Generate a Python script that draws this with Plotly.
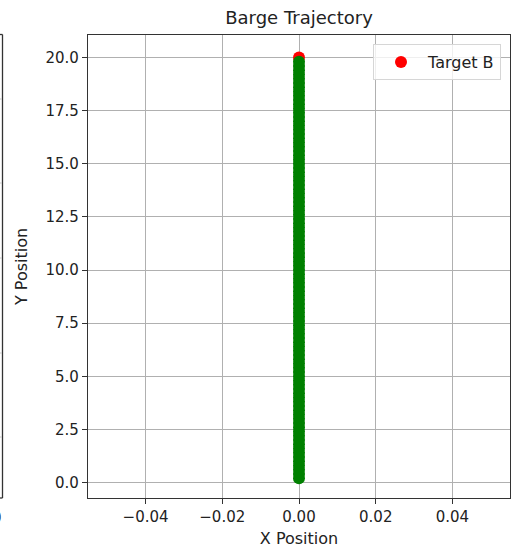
import plotly.graph_objects as go

# Barge path samples (x stays on the centreline while y advances)
path_y = [0.2, 0.4, 0.6, 0.8, 1.0, 1.2, 1.4, 1.6, 1.8, 2.0, 2.2, 2.4, 2.6, 2.8,
          3.0, 3.2, 3.4, 3.6, 3.8, 4.0, 4.2, 4.4, 4.6, 4.8, 5.0, 5.2, 5.4, 5.6,
          5.8, 6.0, 6.2, 6.4, 6.6, 6.8, 7.0, 7.2, 7.4, 7.6, 7.8, 8.0, 8.2, 8.4,
          8.6, 8.8, 9.0, 9.2, 9.4, 9.6, 9.8, 10.0, 10.2, 10.4, 10.6, 10.8, 11.0,
          11.2, 11.4, 11.6, 11.8, 12.0, 12.2, 12.4, 12.6, 12.8, 13.0, 13.2,
          13.4, 13.6, 13.8, 14.0, 14.2, 14.4, 14.6, 14.8, 15.0, 15.2, 15.4,
          15.6, 15.8, 16.0, 16.2, 16.4, 16.6, 16.8, 17.0, 17.2, 17.4, 17.6,
          17.8, 18.0, 18.2, 18.4, 18.6, 18.8, 19.0, 19.2, 19.4, 19.6, 19.8]
path_x = [0.0] * len(path_y)

# Destination point
target_x = [0.0]
target_y = [20.0]

x_ticks = [-0.04, -0.02, 0.0, 0.02, 0.04]
x_tick_text = ["\u22120.04", "\u22120.02", "0.00", "0.02", "0.04"]
y_ticks = [0.0, 2.5, 5.0, 7.5, 10.0, 12.5, 15.0, 17.5, 20.0]
y_tick_text = ["0.0", "2.5", "5.0", "7.5", "10.0", "12.5", "15.0", "17.5", "20.0"]

FONT = "DejaVu Sans"
INK = "#222222"

W, H = 511, 556
L, R, T, B = 88, 1, 35, 58
pw, ph = W - L - R, H - T - B


def px_x(p):
    return (p - L) / pw


def px_y(p):
    return (H - B - p) / ph


fig = go.Figure()
fig.add_trace(go.Scatter(
    x=target_x, y=target_y, mode="markers", name="Target B",
    marker=dict(color="red", size=12, line=dict(width=0)),
))
fig.add_trace(go.Scatter(
    x=path_x, y=path_y, mode="markers", showlegend=False,
    marker=dict(color="green", size=12, line=dict(width=0)),
))

axis_common = dict(
    showgrid=True, gridcolor="#b0b0b0", gridwidth=1,
    zeroline=False, showline=True, linecolor="#333333", linewidth=1.3,
    mirror=True, ticks="outside", ticklen=5, tickcolor="#333333",
    tickfont=dict(family=FONT, size=15, color=INK),
)

fig.update_xaxes(
    range=[-0.055, 0.055], tickvals=x_ticks, ticktext=x_tick_text,
    title=dict(text="X Position", standoff=7,
               font=dict(family=FONT, size=16, color=INK)),
    **axis_common,
)
fig.update_yaxes(
    range=[-0.73, 21.06], tickvals=y_ticks, ticktext=y_tick_text,
    **axis_common,
)

# Edge of the neighbouring panel on the left
shapes = [
    dict(type="line", xref="paper", yref="paper",
         x0=px_x(2.5), x1=px_x(2.5), y0=px_y(34.5), y1=px_y(498),
         line=dict(color="#333333", width=1.3)),
    dict(type="line", xref="paper", yref="paper",
         x0=px_x(-2), x1=px_x(2.5), y0=px_y(34.5), y1=px_y(34.5),
         line=dict(color="#333333", width=1.3)),
    dict(type="line", xref="paper", yref="paper",
         x0=px_x(-2), x1=px_x(2.5), y0=px_y(498), y1=px_y(498),
         line=dict(color="#333333", width=1.3)),
]
for gy in [99, 183, 258, 353, 437]:
    shapes.append(dict(type="line", xref="paper", yref="paper",
                       x0=px_x(-2), x1=px_x(2), y0=px_y(gy), y1=px_y(gy),
                       line=dict(color="#c8c8c8", width=1)))

fig.update_layout(
    width=W, height=H,
    margin=dict(l=L, r=R, t=T, b=B),
    paper_bgcolor="white", plot_bgcolor="white",
    title=dict(text="Barge Trajectory", x=(L + pw / 2) / W, xanchor="center",
               y=1 - 18 / H, yanchor="middle",
               font=dict(family=FONT, size=18, color=INK)),
    showlegend=True,
    legend=dict(x=px_x(373), y=px_y(44), xanchor="left", yanchor="top",
                bgcolor="rgba(255,255,255,0.8)", bordercolor="#d6d6d6",
                borderwidth=1, itemwidth=44,
                font=dict(family=FONT, size=16, color=INK)),
    shapes=shapes,
    annotations=[
        dict(text="Y Position", xref="paper", yref="paper",
             x=px_x(21), y=px_y(267), xanchor="center", yanchor="middle",
             textangle=-90, showarrow=False,
             font=dict(family=FONT, size=16, color=INK)),
        dict(text="0", xref="paper", yref="paper",
             x=px_x(4), y=px_y(518), xanchor="right", yanchor="middle",
             showarrow=False,
             font=dict(family=FONT, size=15, color=INK)),
    ],
)

fig.write_html("out.html")
